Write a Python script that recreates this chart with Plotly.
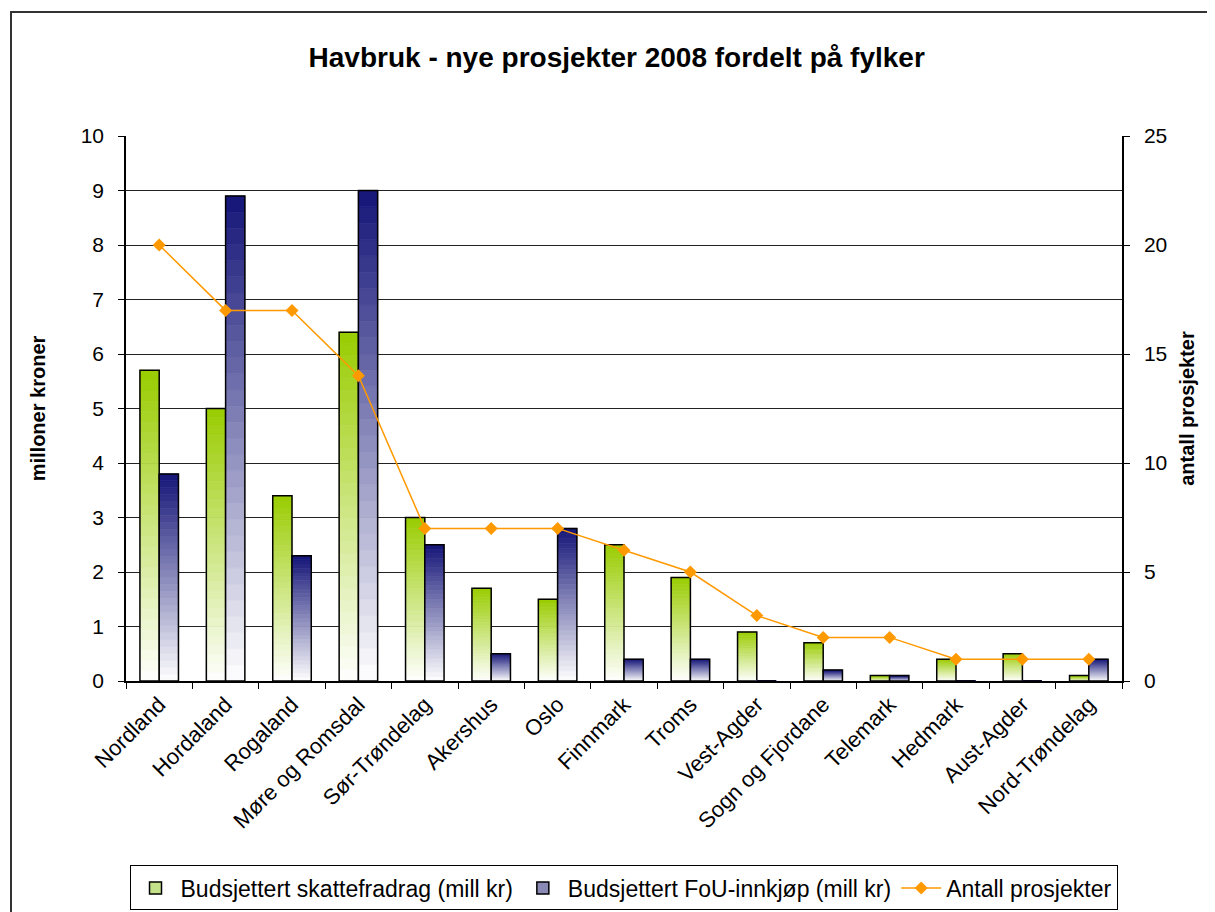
import plotly.graph_objects as go

# data
fylker = ["Nordland", "Hordaland", "Rogaland", "Møre og Romsdal", "Sør-Trøndelag",
          "Akershus", "Oslo", "Finnmark", "Troms", "Vest-Agder", "Sogn og Fjordane",
          "Telemark", "Hedmark", "Aust-Agder", "Nord-Trøndelag"]
skattefradrag = [5.7, 5.0, 3.4, 6.4, 3.0, 1.7, 1.5, 2.5, 1.9, 0.9, 0.7, 0.1, 0.4, 0.5, 0.1]
fou_innkjop = [3.8, 8.9, 2.3, 9.0, 2.5, 0.5, 2.8, 0.4, 0.4, 0.0, 0.2, 0.1, 0.0, 0.0, 0.4]
antall = [20, 17, 17, 14, 7, 7, 7, 6, 5, 3, 2, 2, 1, 1, 1]

FONT = "Liberation Sans, Arial, sans-serif"
N_STEPS = 30
BAR_W = 0.29

# plot area in figure pixels (page body adds 8px)
L, T, W, H = 118, 128, 996, 545


def mix(top, frac):
    # blend from white (frac=0) up to the top colour (frac=1)
    c = [round(255 + (t - 255) * frac) for t in top]
    return f"rgb({c[0]},{c[1]},{c[2]})"


def gradient_bars(fig, values, top, offset, name, legend_color):
    # Excel-style vertical gradient: stack thin slices of each bar
    for k in range(N_STEPS):
        col = mix(top, (k + 0.5) / N_STEPS)
        fig.add_trace(go.Bar(
            x=fylker,
            y=[v / N_STEPS for v in values],
            base=[v * k / N_STEPS for v in values],
            width=BAR_W, offset=offset,
            marker=dict(color=col, line=dict(width=0.6, color=col)),
            showlegend=False, hoverinfo="skip",
        ))
    # outline
    fig.add_trace(go.Bar(
        x=fylker, y=values, width=BAR_W, offset=offset,
        marker=dict(color="rgba(0,0,0,0)", line=dict(color="black", width=1.5)),
        showlegend=False, name=name,
    ))
    # legend entry
    fig.add_trace(go.Bar(
        x=[fylker[0]], y=[None], name=name,
        marker=dict(color=legend_color, line=dict(color="black", width=1.5)),
    ))


fig = go.Figure()
gradient_bars(fig, skattefradrag, (153, 204, 0), -BAR_W,
              "Budsjettert skattefradrag (mill kr)", "#c4e28a")
gradient_bars(fig, fou_innkjop, (20, 20, 120), 0,
              "Budsjettert FoU-innkjøp (mill kr)", "#8a8ab4")

fig.add_trace(go.Scatter(
    x=fylker, y=antall, yaxis="y2", name="Antall prosjekter",
    mode="lines+markers",
    line=dict(color="#FF9900", width=1.5),
    marker=dict(symbol="diamond", size=10, color="#FF9900"),
))

fig.update_layout(
    width=1215, height=912,
    barmode="overlay",
    paper_bgcolor="white", plot_bgcolor="white",
    font=dict(family=FONT, size=21, color="black"),
    margin=dict(l=L, r=1215 - L - W, t=T, b=912 - T - H),
    title=dict(text="<b>Havbruk - nye prosjekter 2008 fordelt på fylker</b>",
               x=0.501, xanchor="center", y=0.946, yanchor="middle",
               font=dict(family=FONT, size=28)),
    xaxis=dict(
        type="category", range=[-0.5, len(fylker) - 0.5],
        tickangle=-45, tickson="boundaries",
        ticks="outside", ticklen=6, tickcolor="black",
        showline=True, linecolor="black", linewidth=2,
        tickfont=dict(size=22), showgrid=False, automargin=False,
    ),
    yaxis=dict(
        range=[0, 10], dtick=1, ticks="outside", ticklen=6, tickcolor="black",
        showline=True, linecolor="black", linewidth=1.5, ticklabelstandoff=10,
        showgrid=True, gridcolor="#222", gridwidth=1, zeroline=False,
        automargin=False,
        title=dict(text="<b>milloner kroner</b>", font=dict(size=20), standoff=30),
    ),
    yaxis2=dict(
        range=[0, 25], dtick=5, overlaying="y", side="right",
        ticks="outside", ticklen=6, tickcolor="black", ticklabelstandoff=10,
        showline=True, linecolor="black", linewidth=1.5,
        showgrid=False, zeroline=False, automargin=False,
        title=dict(text="<b>antall prosjekter</b>", font=dict(size=20), standoff=14),
    ),
    legend=dict(
        orientation="h", xref="container", yref="container",
        x=0.5066, xanchor="center", y=0.0351, yanchor="middle",
        bordercolor="black", borderwidth=1, font=dict(size=23),
        traceorder="normal", itemwidth=40,
    ),
)

# outer chart border
fig.add_shape(type="rect", xref="paper", yref="paper",
              x0=(3 - L) / W, x1=(1240 - L) / W,
              y0=-(940 - T - H) / H, y1=(T + H - 4) / H,
              line=dict(color="#333", width=2), layer="below")

fig.write_html("out.html")
